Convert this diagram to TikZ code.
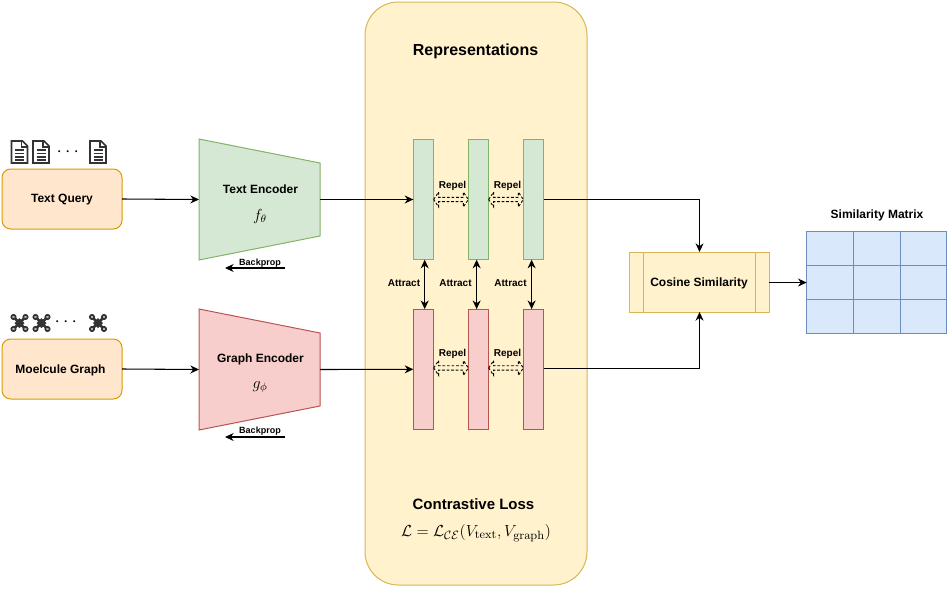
\documentclass[tikz,border=0pt]{standalone}
\usepackage{amsmath,amssymb,bm}
\usepackage[no-math]{fontspec}
\setmainfont{Liberation Sans}
\usetikzlibrary{arrows.meta,positioning,calc}
\definecolor{orangefill}{HTML}{FFE6CC}
\definecolor{orangeline}{HTML}{D79B00}
\definecolor{greenfill}{HTML}{D5E8D4}
\definecolor{greenline}{HTML}{82B366}
\definecolor{redfill}{HTML}{F8CECC}
\definecolor{redline}{HTML}{B85450}
\definecolor{yellowfill}{HTML}{FFF2CC}
\definecolor{yellowline}{HTML}{D6B656}
\definecolor{bluefill}{HTML}{DAE8FC}
\definecolor{blueline}{HTML}{6C8EBF}
\definecolor{icondark}{HTML}{333333}
\tikzset{
  % Input boxes and labels
  inbox/.style={draw=orangeline, fill=orangefill, rectangle, rounded corners=6.5pt, minimum width=90pt,
                minimum height=45pt, line width=0.75pt, outer sep=0pt, font=\fontsize{9}{11}\selectfont\bfseries},
  lbl/.style={inner sep=0pt, font=\fontsize{9}{11}\selectfont\bfseries},
  lbl-small/.style={inner sep=0pt, font=\fontsize{7.5}{9}\selectfont\bfseries},
  lbl-tiny/.style={inner sep=0pt, font=\fontsize{6.75}{8}\selectfont\bfseries},
  lbl-big/.style={inner sep=0pt, font=\fontsize{12}{14}\selectfont\bfseries},
  lbl-math/.style={inner sep=0pt, font=\fontsize{11.5}{13}\selectfont},
  dots/.style={inner sep=0pt, font=\fontsize{14}{14}\selectfont},
  % Encoders: node holds the anchors, outline is drawn around it
  encnode/.style={rectangle, minimum width=90.75pt, minimum height=90.75pt, inner sep=0pt, outer sep=0pt},
  encgreen/.style={draw=greenline, fill=greenfill, line width=0.75pt},
  encred/.style={draw=redline, fill=redfill, line width=0.75pt},
  % Representation bars
  bar/.style={rectangle, minimum width=15.25pt, minimum height=90.25pt, inner sep=0pt, outer sep=0pt, line width=0.75pt},
  bargreen/.style={bar, draw=greenline, fill=greenfill},
  barred/.style={bar, draw=redline, fill=redfill},
  panelbox/.style={draw=yellowline, fill=yellowfill, rectangle, rounded corners=25pt, minimum width=166.5pt,
                   minimum height=437.25pt, line width=0.75pt, outer sep=0pt},
  cosbox/.style={draw=yellowline, fill=yellowfill, rectangle, minimum width=105pt, minimum height=45pt,
                 line width=0.75pt, outer sep=0pt, font=\fontsize{9}{11}\selectfont\bfseries},
  cell/.style={draw=blueline, fill=bluefill, rectangle, minimum width=35pt, minimum height=25.5pt,
               line width=0.75pt, outer sep=0pt},
  % Arrows
  flowarr/.style={-{Stealth[length=6.5pt,width=6pt]}, line width=0.8pt},
  flowbi/.style={{Stealth[length=6.5pt,width=6pt]}-{Stealth[length=6.5pt,width=6pt]}, line width=0.8pt},
  % Repel: hollow two-headed arrow with a dashed outline
  repel/.style={line width=0.7pt, dash pattern=on 2pt off 1.4pt, to path={
    -- ++(5,-7.5) -- ++(0,5.3) -- ($(\tikztotarget)+(-5,-2.2)$) -- ++(0,-5.3) -- (\tikztotarget)
    -- ++(-5,7.5) -- ++(0,-5.3) -- ($(\tikztostart)+(5,2.2)$) -- ++(0,5.3) -- cycle}},
  % Icons
  docicon/.pic={
    \draw[icondark, line width=1.2pt, line join=miter, fill=white] (-8,-11) -- (3,-11) -- (8,-6) -- (8,11) -- (-8,11) -- cycle;
    \draw[icondark, line width=0.9pt] (2,-11) -- (2,-5) -- (8,-5);
    \foreach \yy in {-2,1.5,5,8}
      \draw[icondark, line width=0.9pt] (-4.5,\yy) -- (4.5,\yy);
  },
  molicon/.pic={
    \draw[icondark, line width=2pt] (-6,-6) -- (6,6) (-6,6) -- (6,-6);
    \fill[icondark] (0,-5) -- (5,0) -- (0,5) -- (-5,0) -- cycle;
    \foreach \xx/\yy in {-6/-6,6/-6,-6/6,6/6}
      \draw[icondark, line width=1.2pt, fill=gray!60] (\xx,\yy) circle[radius=2.2];
  }
}
\begin{document}
\begin{tikzpicture}[x=0.75pt, y=-0.75pt]
\useasboundingbox (0,0) rectangle (949,589);

% ============== LEFT: INPUTS ==============
\node[inbox] (tq) at (62,199) {};
\node[inbox, below=82.5pt of tq] (mg) {};
\node[lbl] (tqlbl) at (62,200) {Text Query};
\node[lbl] (mglbl) at (60.5,370) {Moelcule Graph};

\pic at (19.5,152) {docicon};
\pic at (41,152) {docicon};
\pic at (98,152) {docicon};
\node[dots] (tdots) at (69.5,152) {$\cdots$};

\pic at (19.5,323) {molicon};
\pic at (41.5,323) {molicon};
\pic at (98,323) {molicon};
\node[dots] (mdots) at (67.5,322) {$\cdots$};

% ============== ENCODERS ==============
\node[encnode] (tenc) at (259.5,199.5) {};
\node[encnode] (genc) at (259.5,369.5) {};
\draw[encgreen] (tenc.north west) -- ($(tenc.north east)+(0,24)$) -- ($(tenc.south east)+(0,-24)$) -- (tenc.south west) -- cycle;
\draw[encred] (genc.north west) -- ($(genc.north east)+(0,24)$) -- ($(genc.south east)+(0,-24)$) -- (genc.south west) -- cycle;

\node[lbl] (tlbl) at (260.5,189.5) {Text Encoder};
\node[lbl-math] (tfn) at (260,216) {$f_\theta$};
\node[lbl] (glbl) at (260.5,359.5) {Graph Encoder};
\node[lbl-math] (gfn) at (260,387) {$g_\phi$};

\draw[flowarr] (tq.east) -- (tenc.west);
\draw[flowarr] (mg.east) -- (genc.west);

% Backprop arrows under the encoders
\coordinate (tb1) at (285,268);
\coordinate (tb2) at (225,268);
\coordinate (gb1) at (285,437);
\coordinate (gb2) at (225,437);
\draw[flowarr] (tb1) -- (tb2);
\draw[flowarr] (gb1) -- (gb2);
\node[lbl-tiny] (tback) at (260,263) {Backprop};
\node[lbl-tiny] (gback) at (260,431) {Backprop};

% ============== MIDDLE: REPRESENTATIONS ==============
\node[panelbox] (panel) at (476,293.5) {};
\node[lbl-big] (rhdr) at (475.5,51) {Representations};
\node[inner sep=0pt, font=\fontsize{11.25}{13}\selectfont\bfseries] (lhdr) at (473.5,504) {Contrastive Loss};
\node[inner sep=0pt, font=\fontsize{12.5}{14}\selectfont] (lform) at (476,533)
  {$\mathcal{L} = \mathcal{L}_{\mathcal{CE}}(V_{\mathrm{text}}, V_{\mathrm{graph}})$};

\node[bargreen] (g1) at (423.5,199.5) {};
\node[bargreen, right=26pt of g1] (g2) {};
\node[bargreen, right=26pt of g2] (g3) {};
\node[barred] (r1) at (423.5,369.3) {};
\node[barred, right=26pt of r1] (r2) {};
\node[barred, right=26pt of r2] (r3) {};

\draw[flowarr] (tenc.east) -- (g1.west);
\draw[flowarr] (genc.east) -- (r1.west);

% Repel and attract pairs
\draw[repel] (g1.east) to (g2.west);
\draw[repel] (g2.east) to (g3.west);
\draw[repel] ([yshift=1pt]r1.east) to ([yshift=1pt]r2.west);
\draw[repel] ([yshift=1pt]r2.east) to ([yshift=1pt]r3.west);
\node[lbl-small] (rp1) at (452.5,186) {Repel};
\node[lbl-small] (rp2) at (507.5,186) {Repel};
\node[lbl-small] (rp3) at (452.5,354) {Repel};
\node[lbl-small] (rp4) at (507.5,354) {Repel};

\draw[flowbi] ([xshift=0.9pt]g1.south) -- ([xshift=0.9pt]r1.north);
\draw[flowbi] ([xshift=-1.4pt]g2.south) -- ([xshift=-1.4pt]r2.north);
\draw[flowbi] ([xshift=-1.4pt]g3.south) -- ([xshift=-1.4pt]r3.north);
\node[lbl-small] (at1) at (404,283) {Attract};
\node[lbl-small] (at2) at (455.5,283) {Attract};
\node[lbl-small] (at3) at (510.5,283) {Attract};

% ============== RIGHT: SIMILARITY ==============
\node[cosbox] (cos) at (699,282) {};
\node[lbl] (coslbl) at (699,283) {Cosine Similarity};
\draw[yellowline, line width=0.75pt] ($(cos.north west)+(14.5,0)$) -- ($(cos.south west)+(14.5,0)$);
\draw[yellowline, line width=0.75pt] ($(cos.north east)+(-14,0)$) -- ($(cos.south east)+(-14,0)$);

\draw[flowarr] (g3.east) -| ([xshift=0.4pt]cos.north);
\draw[flowarr] ([yshift=0.75pt]r3.east) -| ([xshift=0.4pt]cos.south);

\foreach \rr in {0,1,2}
  \foreach \cc in {0,1,2}
    \node[cell] (m\rr\cc) at ({830+46.67*\cc},{248+34*\rr}) {};
\node[lbl] (mhdr) at (877,215) {Similarity Matrix};

\draw[flowarr] ([yshift=-0.4pt]cos.east) -- ([yshift=-0.4pt]m10.west);

\end{tikzpicture}
\end{document}
